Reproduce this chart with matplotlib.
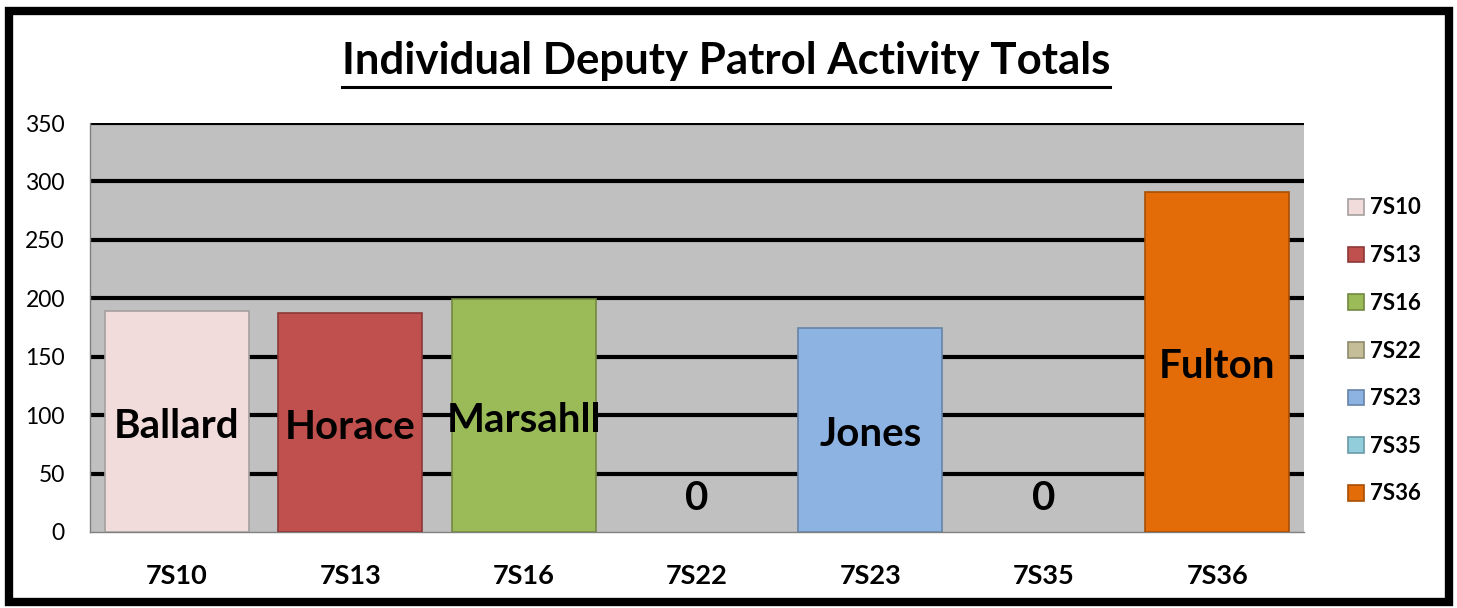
import matplotlib.pyplot as plt
from matplotlib.patches import Patch, Rectangle
from matplotlib.lines import Line2D

# chart data
units = ["7S10", "7S13", "7S16", "7S22", "7S23", "7S35", "7S36"]
totals = [189, 187, 199, 0, 175, 0, 291]
deputies = ["Ballard", "Horace", "Marsahll", "0", "Jones", "0", "Fulton"]
colors = ["#F2DCDB", "#C0504D", "#9BBB59", "#C4BD97", "#8DB3E2", "#92CDDC", "#E36C09"]
edges = ["#A6A0A0", "#8C3836", "#71893F", "#8F8A6E", "#6683A8", "#6A9AA6", "#A84F06"]
y_ticks = [0, 50, 100, 150, 200, 250, 300, 350]

FONT = "Lato"

fig = plt.figure(figsize=(14.57, 6.08), dpi=100)
ax = fig.add_axes([90 / 1457, 76 / 608, (1304 - 90) / 1457, (532 - 123) / 608])
ax.set_facecolor("#C0C0C0")

x = list(range(len(units)))
lws = [1.2 if v > 0 else 0 for v in totals]
ax.bar(x, totals, width=0.83, color=colors, edgecolor=edges, linewidth=lws, zorder=3)

# thick black gridlines
for v in y_ticks[1:]:
    ax.axhline(v, color="black", linewidth=3.0, zorder=2, solid_capstyle="round")

ax.set_xlim(-0.5, len(units) - 0.5)
ax.set_ylim(0, 350)
ax.set_yticks(y_ticks)
ax.set_yticklabels([str(v) for v in y_ticks], fontsize=16.5, family=FONT)
ax.set_xticks(x)
ax.set_xticklabels(units, fontsize=19.5, fontweight="bold", family=FONT)
ax.tick_params(axis="y", length=0, pad=18)
ax.tick_params(axis="x", length=0, pad=23)
for side in ["top", "right"]:
    ax.spines[side].set_visible(False)
for side in ["left", "bottom"]:
    ax.spines[side].set_color("#808080")
    ax.spines[side].set_linewidth(1.0)

# labels in the middle of each bar, zero bars get a label near the base
for xi, v, name in zip(x, totals, deputies):
    y = v / 2 - 4 if v > 0 else 29
    ax.text(xi, y, name, ha="center", va="center", fontsize=29,
            fontweight="bold", family=FONT, zorder=4)

handles = [Patch(facecolor=c, edgecolor=e, linewidth=1.2) for c, e in zip(colors, edges)]
leg = fig.legend(handles, units, loc="center left", bbox_to_anchor=(1328 / 1457, 1 - 351 / 608),
                 frameon=False, handlelength=0.7, handleheight=0.7, handletextpad=0.3,
                 labelspacing=1.2, prop={"family": FONT, "weight": "bold", "size": 16})

title = fig.text(0.4983, 1 - 61 / 608, "Individual Deputy Patrol Activity Totals",
                 ha="center", va="center", fontsize=31.5, fontweight="bold", family=FONT)

# underline the title
fig.canvas.draw()
bb = title.get_window_extent().transformed(fig.transFigure.inverted())
fig.add_artist(Line2D([bb.x0, bb.x1], [1 - 87 / 608] * 2, transform=fig.transFigure,
                      color="black", linewidth=2.2))

# thick frame round the whole chart
fig.add_artist(Rectangle((8.5 / 1457, 6.5 / 608), (1449 - 8.5) / 1457, (597 - 6.5) / 608,
                         transform=fig.transFigure, fill=False, edgecolor="black",
                         linewidth=6.0))

fig.savefig("out.png", dpi=100)
